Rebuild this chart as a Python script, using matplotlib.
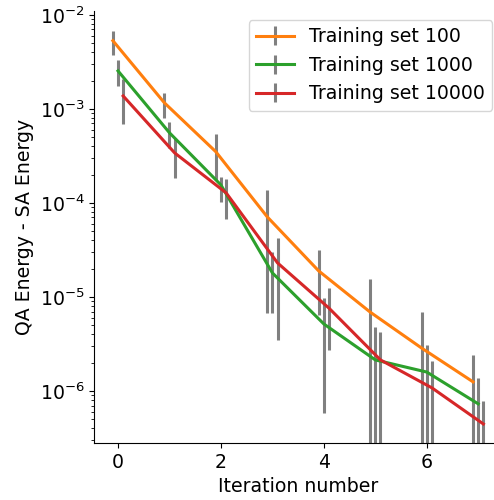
import numpy as np
import matplotlib.pyplot as plt

iterations = np.arange(8)

# mean energy gap and error bar ends (lower, upper)
train100 = [5.3e-3, 1.16e-3, 3.5e-4, 7.1e-5, 1.89e-5, 6.9e-6, 2.86e-6, 1.25e-6]
train100_lo = [3.75e-3, 8.0e-4, 1.76e-4, 6.8e-6, 6.4e-6, 1e-8, 1e-8, 1e-8]
train100_hi = [6.7e-3, 1.48e-3, 5.4e-4, 1.38e-4, 3.16e-5, 1.55e-5, 6.9e-6, 2.4e-6]

train1000 = [2.53e-3, 5.56e-4, 1.55e-4, 1.8e-5, 5.16e-6, 2.14e-6, 1.59e-6, 7.3e-7]
train1000_lo = [1.76e-3, 3.85e-4, 1.02e-4, 6.8e-6, 5.8e-7, 1e-8, 1e-8, 1e-8]
train1000_hi = [3.3e-3, 7.3e-4, 1.9e-4, 3.0e-5, 9.8e-6, 4.8e-6, 3.1e-6, 1.38e-6]

train10000 = [1.37e-3, 3.4e-4, 1.28e-4, 2.3e-5, 7.6e-6, 2.14e-6, 1.08e-6, 4.46e-7]
train10000_lo = [6.9e-4, 1.85e-4, 6.7e-5, 3.5e-6, 2.7e-6, 1e-8, 1e-8, 1e-8]
train10000_hi = [2.09e-3, 4.9e-4, 1.8e-4, 4.2e-5, 1.26e-5, 4.2e-6, 2.09e-6, 7.8e-7]

labels = ['Training set 100', 'Training set 1000', 'Training set 10000']
colors = ['#ff7f0e', '#2ca02c', '#d62728']
offsets = [-0.1, 0.0, 0.1]

plt.rcParams['font.size'] = 13.6
fig, ax = plt.subplots(figsize=(4.94, 5.0), dpi=100)

series = [(train100, train100_lo, train100_hi),
          (train1000, train1000_lo, train1000_hi),
          (train10000, train10000_lo, train10000_hi)]
for (m, lo, hi), lab, c, off in zip(series, labels, colors, offsets):
    m = np.array(m)
    yerr = [m - np.array(lo), np.array(hi) - m]
    ax.errorbar(iterations + off, m, yerr=yerr, color=c, ecolor='gray',
                elinewidth=2.2, lw=2.2, label=lab)

ax.set_yscale('log')
ax.set_ylim(2.8e-7, 1.11e-2)
ax.set_xlabel('Iteration number')
ax.set_ylabel('QA Energy - SA Energy')
ax.spines['top'].set_visible(False)
ax.spines['right'].set_visible(False)
ax.legend(loc='upper right')

# the original image is cut off on the right, axes run past the edge
plt.subplots_adjust(left=0.191, right=1.016, top=0.979, bottom=0.114)
plt.savefig('out.png')
